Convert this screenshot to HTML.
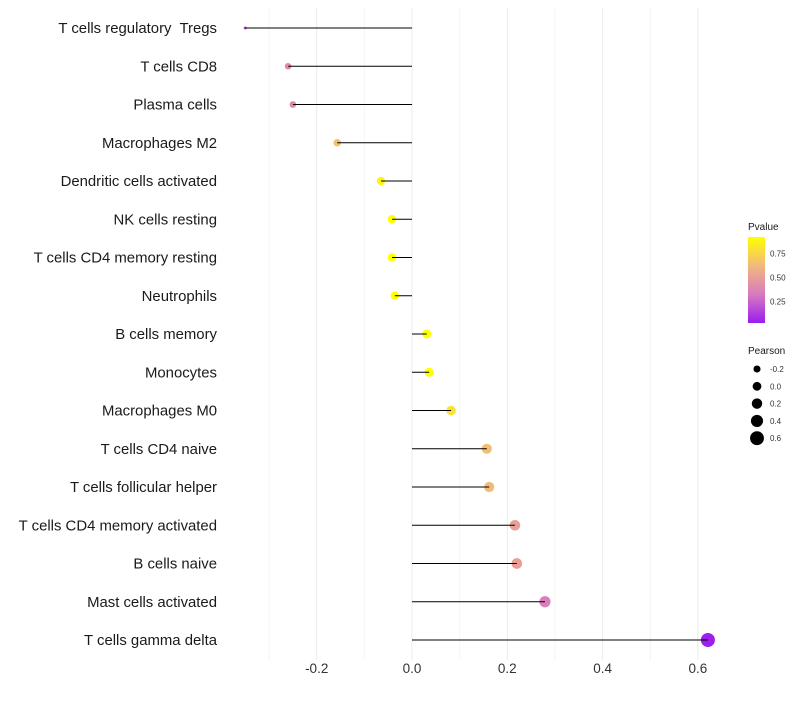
<!DOCTYPE html>
<html><head><meta charset="utf-8"><style>
body{margin:0;background:#fff;font-family:"Liberation Sans",sans-serif}
svg text{font-family:"Liberation Sans",sans-serif;white-space:pre}
</style></head><body>
<svg id="chart" width="800" height="700"></svg>
<script>
const categories=["T cells regulatory  Tregs","T cells CD8","Plasma cells","Macrophages M2","Dendritic cells activated","NK cells resting","T cells CD4 memory resting","Neutrophils","B cells memory","Monocytes","Macrophages M0","T cells CD4 naive","T cells follicular helper","T cells CD4 memory activated","B cells naive","Mast cells activated","T cells gamma delta"];
const pearson=[-0.35,-0.26,-0.25,-0.157,-0.065,-0.042,-0.042,-0.036,0.031,0.036,0.082,0.157,0.162,0.216,0.22,0.279,0.621];
const pvalue=[0.15,0.4,0.4,0.65,0.88,0.92,0.92,0.92,0.93,0.93,0.8,0.65,0.63,0.5,0.5,0.35,0.04];
const xTicks=[-0.2,0.0,0.2,0.4,0.6];
const xMinor=[-0.3,-0.1,0.1,0.3,0.5];
const sizeLegend=[-0.2,0.0,0.2,0.4,0.6];
const colorTicks=[0.25,0.5,0.75];

const NS="http://www.w3.org/2000/svg";
const svg=document.getElementById('chart');
function el(t,a,p){const e=document.createElementNS(NS,t);for(const k in a)e.setAttribute(k,a[k]);(p||svg).appendChild(e);return e;}
const x=v=>412+v*476.5;
const y=i=>28+i*38.25;
const r=v=>v<-0.3?1.5:Math.max(1.5,4.4+4.2*v);
const stops=[[0,[155,28,240]],[0.33,[215,122,192]],[0.67,[242,185,122]],[1,[255,255,0]]];
function col(p){let t=(p-0.03)/(0.92-0.03);t=Math.max(0,Math.min(1,t));
 for(let i=1;i<stops.length;i++){if(t<=stops[i][0]){const a=stops[i-1],b=stops[i];const f=(t-a[0])/(b[0]-a[0]);
 return 'rgb('+a[1].map((c,j)=>Math.round(c+(b[1][j]-c)*f)).join(',')+')';}}return 'rgb(255,255,0)';}

xMinor.forEach(v=>{const l=el('line',{x1:x(v),x2:x(v),y1:8,y2:660,stroke:'#f4f4f4','stroke-width':1});
});
xTicks.forEach(v=>{const l=el('line',{x1:x(v),x2:x(v),y1:8,y2:660,stroke:'#ebebeb','stroke-width':1});

const t=el('text',{x:x(v),y:673,'text-anchor':'middle','font-size':13.5,fill:'#333'});t.textContent=v.toFixed(1);
});

categories.forEach((c,i)=>{
 const t=el('text',{x:217,y:y(i)+5,'text-anchor':'end','font-size':14.9,fill:'#1a1a1a'});t.textContent=c;
 
 const d=el('circle',{cx:x(pearson[i]),cy:y(i),r:r(pearson[i]),fill:col(pvalue[i])});
 
 const l=el('line',{x1:x(0),x2:x(pearson[i]),y1:y(i),y2:y(i),stroke:'#000','stroke-width':1});
 
});

const lt=el('text',{x:748,y:230,'font-size':10,fill:'#1a1a1a'});lt.textContent='Pvalue';

const defs=el('defs',{});const g=el('linearGradient',{id:'pg',x1:0,y1:1,x2:0,y2:0},defs);
stops.forEach(s=>el('stop',{offset:s[0],'stop-color':'rgb('+s[1].join(',')+')'},g));
const cb=el('rect',{x:748,y:237,width:17,height:86,fill:'url(#pg)'});

const cy=p=>323-(p-0.03)/(0.92-0.03)*86;
colorTicks.forEach(p=>{
 const t=el('text',{x:770,y:cy(p)+3,'font-size':8,fill:'#333'});t.textContent=p.toFixed(2);
 });

const st=el('text',{x:748,y:354,'font-size':10,fill:'#1a1a1a'});st.textContent='Pearson';

sizeLegend.forEach((v,i)=>{const yy=369+i*17.3;
 const c=el('circle',{cx:757,cy:yy,r:r(v),fill:'#000'});
 
 const t=el('text',{x:770,y:yy+3,'font-size':8,fill:'#333'});t.textContent=v.toFixed(1);
 });
</script>
</body></html>
